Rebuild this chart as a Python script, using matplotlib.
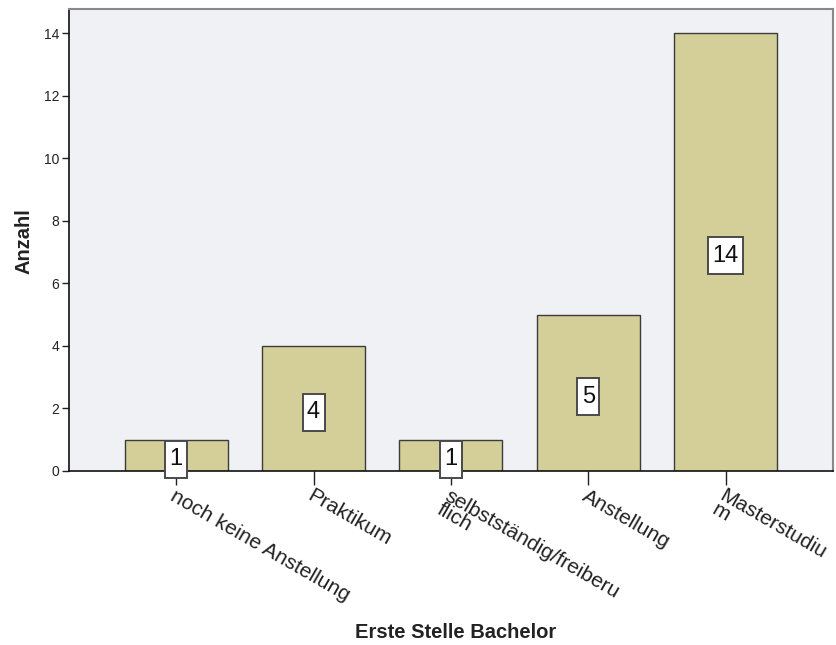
import matplotlib
matplotlib.use("Agg")
from matplotlib import pyplot as plt
from matplotlib.patches import Rectangle
from matplotlib.transforms import ScaledTranslation

plt.rcParams['font.family'] = ['Liberation Sans', 'DejaVu Sans']

# Daten: Erste Stelle nach dem Bachelor
categories = ['noch keine Anstellung', 'Praktikum', 'selbstständig/freiberu\nflich',
              'Anstellung', 'Masterstudiu\nm']
counts = [1, 4, 1, 5, 14]
y_ticks = [0, 2, 4, 6, 8, 10, 12, 14]

bar_color = '#d4ce98'
bg_color = '#f0f1f4'
DPI = 100

fig = plt.figure(figsize=(8.37, 6.45), dpi=DPI)
ax = fig.add_axes([0.0824, 0.270, 0.9126, 0.716])
ax.set_facecolor(bg_color)

pos = list(range(len(categories)))
ax.bar(pos, counts, width=0.75, color=bar_color, edgecolor='#3c3c3c', linewidth=1.0, zorder=2)

# Werte als Kästchen in der Balkenmitte (Kästchengröße in Pixeln)
box_h = 37
shift = 4
for x, v in zip(pos, counts):
    label = str(v)
    box_w = 13 * len(label) + 9
    tr = fig.dpi_scale_trans + ScaledTranslation(x, v / 2, ax.transData)
    ax.add_patch(Rectangle((-box_w / 2 / DPI, (-box_h / 2 - shift) / DPI),
                           box_w / DPI, box_h / DPI, transform=tr,
                           facecolor='white', edgecolor='#4a4a4a', linewidth=1.4,
                           zorder=4, clip_on=False))
    ax.text(0, -shift / DPI, label, transform=tr, ha='center', va='center',
            fontsize=17, color='#111111', zorder=5)

ax.set_xlim(-0.78, 4.78)
ax.set_ylim(0, 14.77)
ax.set_yticks(y_ticks)
ax.set_xticks(pos)
ax.set_xticklabels(categories, rotation=-30, ha='left', va='top',
                   rotation_mode='anchor', fontsize=15, color='#222222',
                   linespacing=0.8)
ax.tick_params(axis='x', length=10, width=1, color='#222222', pad=1)
ax.tick_params(axis='y', length=5, width=1, labelsize=10, color='#222222',
               labelcolor='#222222', pad=2)

for s in ['left', 'bottom']:
    ax.spines[s].set_color('#111111')
    ax.spines[s].set_linewidth(1.2)
for s in ['top', 'right']:
    ax.spines[s].set_color('#888888')
    ax.spines[s].set_linewidth(1.5)

fig.text(0.029, 0.626, 'Anzahl', rotation=90, ha='center', va='center',
         fontsize=14.5, fontweight='bold', color='#222222')
fig.text(0.544, 0.019, 'Erste Stelle Bachelor', ha='center', va='center',
         fontsize=14.5, fontweight='bold', color='#222222')

fig.savefig('out.png', dpi=DPI, facecolor='white')
